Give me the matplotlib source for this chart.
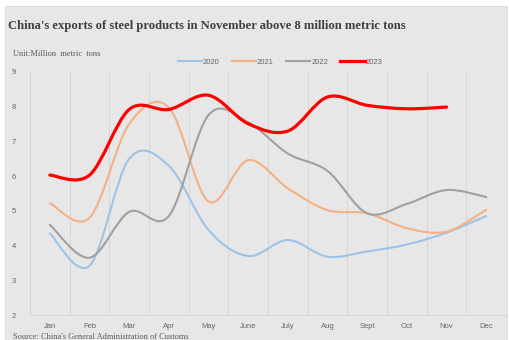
import numpy as np
import matplotlib
matplotlib.use('Agg')
import matplotlib.pyplot as plt
from matplotlib.path import Path
from matplotlib.patches import PathPatch, Rectangle
from matplotlib.lines import Line2D

# dados (milhões de toneladas)
meses = ['Jan', 'Feb', 'Mar', 'Apr', 'May', 'June', 'July', 'Aug', 'Sept', 'Oct', 'Nov', 'Dec']
y2020 = [4.35, 3.42, 6.5, 6.3, 4.45, 3.7, 4.16, 3.68, 3.83, 4.03, 4.37, 4.85]
y2021 = [5.22, 4.8, 7.5, 7.98, 5.27, 6.46, 5.65, 5.02, 4.93, 4.5, 4.4, 5.03]
y2022 = [4.6, 3.65, 4.97, 4.85, 7.76, 7.55, 6.65, 6.15, 4.93, 5.2, 5.6, 5.4]
y2023 = [6.03, 6.03, 7.92, 7.92, 8.33, 7.51, 7.3, 8.28, 8.04, 7.94, 7.99]

series = [('2020', y2020, '#9dc3e6', 1.5),
          ('2021', y2021, '#f4b183', 1.5),
          ('2022', y2022, '#a0a0a0', 1.5),
          ('2023', y2023, '#ff0000', 2.3)]


def curva_suave(xs, ys):
    # curva estilo Excel (bezier a partir dos pontos)
    pts = np.column_stack([xs, ys]).astype(float)
    verts = [pts[0]]
    codes = [Path.MOVETO]
    n = len(pts)
    for i in range(n - 1):
        p0 = pts[max(i - 1, 0)]
        p1 = pts[i]
        p2 = pts[i + 1]
        p3 = pts[min(i + 2, n - 1)]
        c1 = p1 + (p2 - p0) / 6
        c2 = p2 - (p3 - p1) / 6
        verts += [c1, c2, p2]
        codes += [Path.CURVE4] * 3
    return Path(verts, codes)


fig = plt.figure(figsize=(5.1, 3.4), dpi=100)
fig.patch.set_facecolor('white')
fig.patches.append(Rectangle((5 / 510, 0), 502 / 510, 334 / 340, transform=fig.transFigure,
                             facecolor='#e7e7e7', edgecolor='#d8d8d8', lw=0.6, zorder=-10))

ax = fig.add_axes([30 / 510, 25 / 340, 476 / 510, 243 / 340])
ax.patch.set_alpha(0)

x = np.arange(len(meses))
for nome, vals, cor, lw in series:
    p = curva_suave(x[:len(vals)], vals)
    ax.add_patch(PathPatch(p, facecolor='none', edgecolor=cor, lw=lw, capstyle='round', zorder=3))

ax.set_xlim(-0.5, 11.5)
ax.set_ylim(2, 9)
ax.set_yticks(range(2, 10))
ax.set_xticks(x)
ax.set_xticklabels(meses)
ax.set_xticks(np.arange(-0.5, 12, 1), minor=True)
ax.grid(True, which='minor', axis='x', color='#d6d6d6', lw=0.7)
ax.tick_params(which='both', length=0)
ax.tick_params(axis='both', labelsize=5.5, labelcolor='#666666', pad=6)
ax.tick_params(axis='y', pad=10)
for lab in ax.get_xticklabels() + ax.get_yticklabels():
    lab.set_family('Liberation Sans')
for s in ['top', 'right', 'left']:
    ax.spines[s].set_visible(False)
ax.spines['bottom'].set_color('#d6d6d6')
ax.spines['bottom'].set_linewidth(0.7)

fig.text(8 / 510, 1 - 26 / 340, "China's exports of steel products in November above 8 million metric tons",
         family='Liberation Serif', weight='bold', fontsize=9.1, color='#404040', va='center')
fig.text(13 / 510, 1 - 54 / 340, 'Unit:Million  metric  tons', family='Liberation Serif',
         fontsize=6, color='#595959', va='center')
fig.text(13 / 510, 1 - 337 / 340, "Source: China's General Administration of Customs",
         family='Liberation Serif', fontsize=6, color='#595959', va='center')

handles = [Line2D([], [], color=c, lw=lw) for _, _, c, lw in series]
fig.legend(handles, [s[0] for s in series], loc='center', bbox_to_anchor=(280 / 510, 1 - 62 / 340),
           ncol=4, frameon=False, labelcolor='#666666', handlelength=3.2,
           handletextpad=0.1, columnspacing=1.6, prop={'family': 'Liberation Sans', 'size': 5.5})

fig.savefig('out.png', dpi=100)
